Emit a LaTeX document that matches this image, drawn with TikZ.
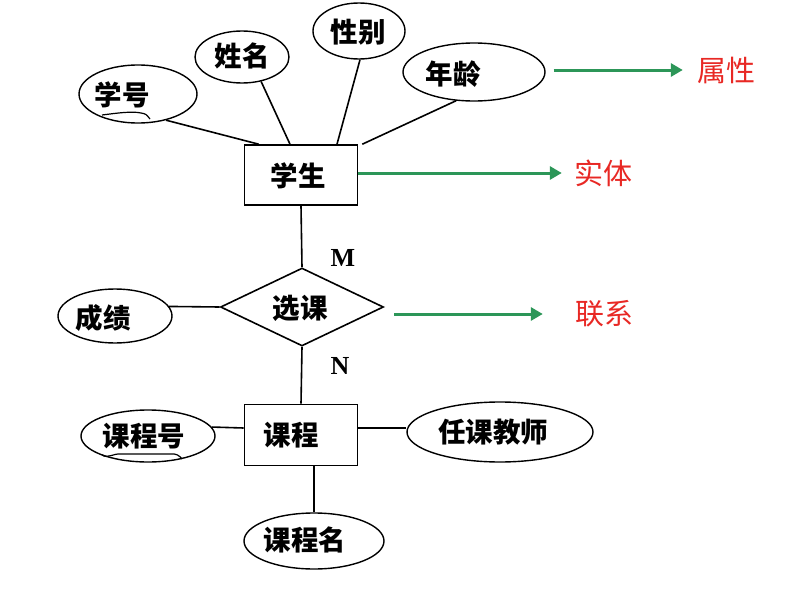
\documentclass[tikz,border=0pt]{standalone}
\usepackage{fontspec}
\setmainfont{Liberation Serif}
\newfontfamily\cjk{Noto Sans CJK SC}
\usetikzlibrary{shapes.geometric,arrows.meta,calc}
\definecolor{arrgreen}{RGB}{44,150,88}
\definecolor{labred}{RGB}{232,40,36}
\begin{document}
\begin{tikzpicture}[x=1pt,y=-1pt,
  attr/.style={ellipse,draw,line width=1.4pt,inner sep=0pt},
  ent/.style={rectangle,draw,line width=1.6pt,inner sep=0pt},
  rel/.style={diamond,draw,line width=1.6pt,inner sep=0pt,aspect=2.1},
  txt/.style={font=\cjk\bfseries\fontsize{27.5}{29}\selectfont,inner sep=0pt},
  redtxt/.style={font=\cjk\fontsize{29}{31}\selectfont,text=labred,inner sep=0pt},
  card/.style={font=\fontsize{26}{28}\selectfont\bfseries,inner sep=0pt},
  conn/.style={line width=1.6pt},
  garrow/.style={draw=arrgreen,line width=3pt,-{Triangle[length=12pt,width=13pt]}}]
\useasboundingbox (0,0) rectangle (809,597);
% shapes
\node[attr,minimum width=118,minimum height=58] (xh) at (138,94) {};
\node[attr,minimum width=94,minimum height=52] (xm) at (242,57) {};
\node[attr,minimum width=92,minimum height=56] (xb) at (359,31) {};
\node[attr,minimum width=142,minimum height=58] (nl) at (474,72) {};
\node[ent,minimum width=113,minimum height=60] (xs) at (301,175) {};
\node[rel,minimum width=163,minimum height=78] (xk) at (302,307) {};
\node[attr,minimum width=114,minimum height=54] (cj) at (115,316) {};
\node[ent,minimum width=113,minimum height=61] (kc) at (301,435) {};
\node[attr,minimum width=134,minimum height=52] (kh) at (148,436) {};
\node[attr,minimum width=186,minimum height=60] (rk) at (500,432) {};
\node[attr,minimum width=140,minimum height=56] (km) at (314,541) {};
% texts
\node[txt] (txh) at (122,95) {学号};
\node[txt] (txm) at (242,56) {姓名};
\node[txt] (txb) at (358,32) {性别};
\node[txt] (tnl) at (453,74) {年龄};
\node[txt] (txs) at (298,176) {学生};
\node[txt] (txk) at (300,308) {选课};
\node[txt] (tcj) at (103,318) {成绩};
\node[txt] (tkc) at (291,435) {课程};
\node[txt] (tkh) at (144,436) {课程号};
\node[txt] (trk) at (493,432) {任课教师};
\node[txt] (tkm) at (305,540) {课程名};
% wavy underlines
\draw[line width=1.2pt] (102,115) .. controls (118,113) and (132,111) .. (141,113) .. controls (146,114) .. (150,119);
\draw[line width=1.2pt] (102,455) .. controls (108,459) and (113,453) .. (122,454) -- (170,454) .. controls (176,453) and (180,456) .. (182,459);
% connectors
\draw[conn] (xh.-43) -- ([xshift=15]xs.north west);
\draw[conn] (xm.-52) -- ([xshift=-11]xs.north);
\draw[conn] (xb.-88) -- ([xshift=36]xs.north);
\draw[conn] (nl.-122) -- ([xshift=4]xs.north east);
\draw[conn] (xs.south) -- (xk.north);
\draw[conn] (xk.south) -- (kc.north);
\draw[conn] (cj.10) -- (xk.west);
\draw[conn] (kh.8) -- ([yshift=7]kc.west);
\draw[conn] ([yshift=7]kc.east) -- ([yshift=4]rk.west);
\draw[conn] ([xshift=13]kc.south) -- (km.north);
% cardinalities
\node[card] (cm) at (343,258) {M};
\node[card] (cn) at (340,366) {N};
% legend labels
\node[redtxt] (lsx) at (726,70) {属性};
\node[redtxt] (lst) at (603,173) {实体};
\node[redtxt] (llx) at (604,314) {联系};
\draw[garrow] ([xshift=8]nl.east |- lsx.west) -- ([xshift=-14]lsx.west);
\draw[garrow] (xs.east |- lst.west) -- ([xshift=-12]lst.west);
\draw[garrow] ([xshift=10]xk.east |- llx.west) -- ([xshift=-32]llx.west);
\end{tikzpicture}
\end{document}
